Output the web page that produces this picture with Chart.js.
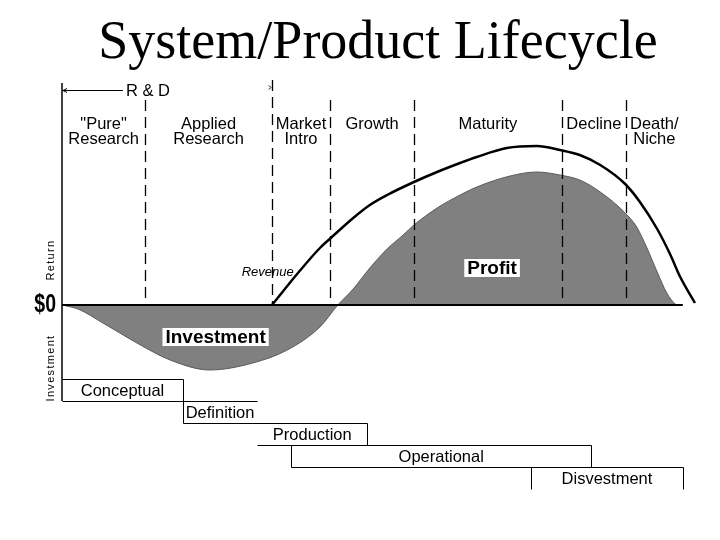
<!DOCTYPE html>
<html>
<head>
<meta charset="utf-8">
<title>System/Product Lifecycle</title>
<script src="https://cdn.jsdelivr.net/npm/chart.js@4.4.1/dist/chart.umd.min.js"></script>
<style>
  html, body { margin: 0; padding: 0; background: #fff; }
</style>
</head>
<body>
<canvas id="lifecycleChart" width="720" height="540"></canvas>
<script>
// time runs 0..100 across the plot, return is in arbitrary units ($0 = 0)

// profit / investment curve
const profitTime  = [0, 2.5, 6.4, 11.7, 16.9, 23.1, 29.8, 35.2, 40.3, 43.1, 45.5, 48.1, 50.8, 53.3, 55.0, 58.6, 62.2, 64.8, 70.0, 74.2, 77.8, 80.9, 84.1, 88.0, 89.8, 91.4, 93.0, 94.5, 95.8, 96.1];
const profitValue = [0, -4, -18, -38, -55, -65, -58, -45, -22, 0, 16, 37, 56, 70, 80, 97, 110, 118, 129, 133, 130, 125, 113, 92, 78, 57, 33, 12, 1, 0];

// revenue curve
const revenueTime  = [32.8, 37.0, 40.3, 42.0, 45.5, 48.1, 50.8, 55.0, 58.6, 62.2, 64.8, 69.5, 74.2, 77.8, 80.9, 84.1, 88.0, 90.3, 93.0, 95.0, 96.6, 98.9];
const revenueValue = [0, 33, 57, 67, 87, 100, 110, 123, 133, 142, 148, 157, 159, 155, 150, 140, 121, 103, 76, 51, 28, 2];

// lifecycle stages (header row) and their boundaries
const stageNames  = [['"Pure"', 'Research'], ['Applied', 'Research'], ['Market', 'Intro'], ['Growth'], ['Maturity'], ['Decline'], ['Death/', 'Niche']];
const stageBounds = [0, 13.0, 32.8, 41.9, 55.0, 78.1, 88.1, 97.0];
const rdEnd = 32.8;

// program phases (step boxes under the plot)
const phaseNames = ['Conceptual', 'Definition', 'Production', 'Operational', 'Disvestment'];
const phaseStart = [0, 18.9, 30.5, 35.8, 73.3];
const phaseEnd   = [18.9, 30.5, 47.7, 82.7, 97.0];

const toPoints = (xs, ys) => xs.map((x, i) => ({ x: x, y: ys[i] }));

const SANS = '"Liberation Sans", Arial, sans-serif';

function boxedLabel(ctx, text, x, y) {
    ctx.font = 'bold 19px ' + SANS;
    const w = ctx.measureText(text).width;
    ctx.fillStyle = '#fff';
    ctx.fillRect(x - w / 2 - 3, y - 9, w + 6, 18);
    ctx.fillStyle = '#000';
    ctx.textAlign = 'center';
    ctx.textBaseline = 'middle';
    ctx.fillText(text, x, y + 1);
}

const lifecycleDecor = {
    id: 'lifecycleDecor',
    afterDatasetsDraw(chart) {
        const ctx = chart.ctx;
        const xs = chart.scales.x;
        const ys = chart.scales.y;
        const area = chart.chartArea;
        const zeroY = ys.getPixelForValue(0);
        const left = xs.getPixelForValue(0);
        const px = v => Math.round(xs.getPixelForValue(v)) + 0.5;

        ctx.save();

        // title
        ctx.fillStyle = '#000';
        ctx.font = '54px "Liberation Serif", "Times New Roman", serif';
        ctx.textAlign = 'center';
        ctx.textBaseline = 'alphabetic';
        ctx.fillText('System/Product Lifecycle', 378, 58);

        // dashed stage dividers
        ctx.strokeStyle = '#000';
        ctx.lineWidth = 1.3;
        ctx.setLineDash([11, 6]);
        for (let i = 1; i < stageBounds.length - 1; i++) {
            const top = stageBounds[i] === rdEnd ? area.top + 2 : area.top + 22;
            ctx.beginPath();
            ctx.moveTo(px(stageBounds[i]), top);
            ctx.lineTo(px(stageBounds[i]), zeroY);
            ctx.stroke();
        }
        ctx.setLineDash([]);

        // $0 baseline and vertical axis
        ctx.lineWidth = 2;
        ctx.beginPath();
        ctx.moveTo(left, zeroY);
        ctx.lineTo(xs.getPixelForValue(stageBounds[stageBounds.length - 1]), zeroY);
        ctx.stroke();
        ctx.lineWidth = 1.5;
        ctx.beginPath();
        ctx.moveTo(left, area.top + 5);
        ctx.lineTo(left, zeroY + 74 + 22);
        ctx.stroke();

        // R & D arrow
        ctx.lineWidth = 1;
        const rdY = area.top + 12.5;
        ctx.beginPath();
        ctx.moveTo(left, rdY);
        ctx.lineTo(left + 61, rdY);
        ctx.stroke();
        ctx.beginPath();
        ctx.moveTo(left + 5, rdY - 2);
        ctx.lineTo(left + 1, rdY);
        ctx.lineTo(left + 5, rdY + 2);
        ctx.stroke();
        const rdPx = xs.getPixelForValue(rdEnd);
        ctx.beginPath();
        ctx.moveTo(rdPx - 3, rdY - 5);
        ctx.lineTo(rdPx - 1, rdY - 3);
        ctx.lineTo(rdPx - 3, rdY - 1);
        ctx.stroke();
        ctx.font = '16.5px ' + SANS;
        ctx.textAlign = 'left';
        ctx.textBaseline = 'middle';
        ctx.fillText('R & D', left + 64, rdY + 0.5);

        // stage headers
        ctx.textAlign = 'center';
        ctx.textBaseline = 'alphabetic';
        stageNames.forEach((lines, i) => {
            const cx = (xs.getPixelForValue(stageBounds[i]) + xs.getPixelForValue(stageBounds[i + 1])) / 2;
            lines.forEach((t, j) => ctx.fillText(t, cx, area.top + 51 + j * 15));
        });

        // $0, squeezed like a condensed face
        ctx.save();
        ctx.font = 'bold 25px ' + SANS;
        ctx.textAlign = 'right';
        ctx.textBaseline = 'middle';
        ctx.translate(56, zeroY);
        ctx.scale(0.78, 1);
        ctx.fillText('$0', 0, 0);
        ctx.restore();

        // rotated axis words
        ctx.font = '11px ' + SANS;
        ctx.textAlign = 'center';
        ctx.textBaseline = 'middle';
        ctx.letterSpacing = '1.3px';
        [['Return', zeroY - 45], ['Investment', zeroY + 63]].forEach(([t, cy]) => {
            ctx.save();
            ctx.translate(51, cy);
            ctx.rotate(-Math.PI / 2);
            ctx.fillText(t, 0, 0);
            ctx.restore();
        });
        ctx.letterSpacing = '0px';

        // curve labels
        ctx.font = 'italic 13px ' + SANS;
        ctx.textAlign = 'right';
        ctx.fillText('Revenue', xs.getPixelForValue(36.2), ys.getPixelForValue(33));
        boxedLabel(ctx, 'Investment', xs.getPixelForValue(24), ys.getPixelForValue(-32));
        boxedLabel(ctx, 'Profit', xs.getPixelForValue(67.2), ys.getPixelForValue(37));

        // phase step boxes
        const rowTop = i => Math.round(zeroY + 74 + 22 * i) + 0.5;
        const sides = [[false, true], [true, false], [false, true], [true, true], [true, true]];
        ctx.lineWidth = 1;
        for (let k = 0; k < phaseNames.length; k++) {
            const a = k > 0 ? Math.min(phaseStart[k], phaseStart[k - 1]) : phaseStart[k];
            const b = k > 0 ? Math.max(phaseEnd[k], phaseEnd[k - 1]) : phaseEnd[k];
            const y = rowTop(k);
            const y2 = rowTop(k + 1);
            ctx.beginPath();
            ctx.moveTo(px(a), y);
            ctx.lineTo(px(b), y);
            if (sides[k][0]) { ctx.moveTo(px(phaseStart[k]), y); ctx.lineTo(px(phaseStart[k]), y2); }
            if (sides[k][1]) { ctx.moveTo(px(phaseEnd[k]), y); ctx.lineTo(px(phaseEnd[k]), y2); }
            ctx.stroke();
        }
        ctx.font = '16.5px ' + SANS;
        ctx.textAlign = 'center';
        ctx.textBaseline = 'middle';
        phaseNames.forEach((name, k) => {
            const cx = (xs.getPixelForValue(phaseStart[k]) + xs.getPixelForValue(phaseEnd[k])) / 2;
            ctx.fillText(name, cx, rowTop(k) + 12);
        });

        ctx.restore();
    }
};

const ctx = document.getElementById('lifecycleChart').getContext('2d');
const lifecycleChart = new Chart(ctx, {
    type: 'line',
    data: {
        datasets: [
            {
                label: 'Profit / Investment',
                data: toPoints(profitTime, profitValue),
                fill: 'origin',
                backgroundColor: '#808080',
                borderColor: '#5a5a5a',
                borderWidth: 1,
                pointRadius: 0,
                cubicInterpolationMode: 'monotone'
            },
            {
                label: 'Revenue',
                data: toPoints(revenueTime, revenueValue),
                fill: false,
                borderColor: '#000',
                borderWidth: 2.5,
                pointRadius: 0,
                cubicInterpolationMode: 'monotone'
            }
        ]
    },
    options: {
        responsive: false,
        animation: false,
        layout: { padding: { left: 62, right: 18, top: 78, bottom: 140 } },
        scales: {
            x: { type: 'linear', min: 0, max: 100, display: false },
            y: { min: -95, max: 227, display: false }
        },
        plugins: {
            legend: { display: false },
            tooltip: { enabled: false }
        }
    },
    plugins: [lifecycleDecor]
});
</script>
</body>
</html>
